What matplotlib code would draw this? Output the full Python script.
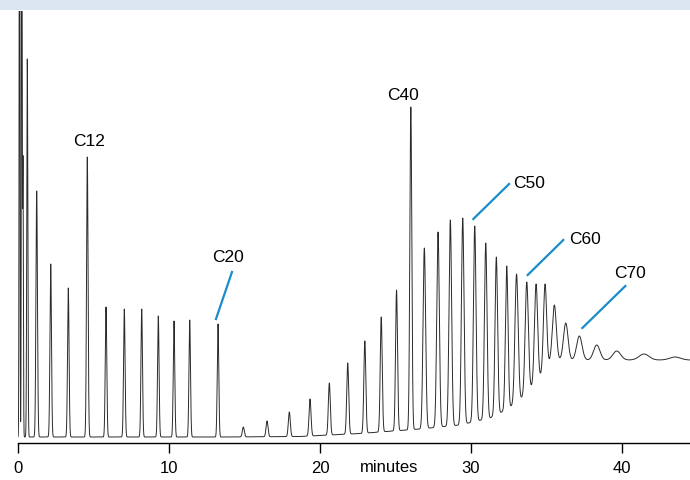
import numpy as np
import matplotlib
matplotlib.use("Agg")
import matplotlib.pyplot as plt
from matplotlib.patches import Rectangle
from matplotlib.transforms import blended_transform_factory

plt.rcParams['font.family'] = ['Liberation Sans', 'DejaVu Sans']

# peak table: retention time (min), apex level, width (sigma, min)
peak_times = [0.10, 0.25, 0.33, 0.616, 1.238, 2.166, 3.331, 4.589, 5.828, 7.040,
              8.192, 9.291, 10.331, 11.371, 13.245, 14.921, 16.490, 17.967, 19.338, 20.616,
              21.834, 22.967, 24.053, 25.066, 26.013, 26.907, 27.815, 28.629, 29.450, 30.245,
              30.974, 31.675, 32.364, 33.013, 33.689, 34.305, 34.901, 35.517, 36.272, 37.172,
              38.325, 39.649, 41.457, 43.510]
peak_levels = [700, 700, 277, 378, 246, 173, 149, 280, 130, 128,
               128, 121, 116, 117, 113, 10, 16, 25, 38, 54,
               74, 96, 120, 147, 330, 189, 205, 217, 219, 211,
               194, 180, 171, 163, 155, 153, 153, 132, 114, 101,
               92, 86, 83, 80]
peak_widths = [0.025, 0.025, 0.025, 0.035] + [0.05] * 11 + [0.065] * 10 + [0.085] * 8 + \
              [0.105] * 4 + [0.13, 0.15, 0.18, 0.21, 0.26, 0.33, 0.36]

# rising baseline (column bleed) read at the valleys
base_times = [0, 14.04, 18.68, 22.65, 26.62, 29.27, 31.26, 31.92, 32.52, 33.25,
              33.97, 34.57, 35.23, 35.89, 44.5]
base_levels = [0, 0, 0.5, 3.5, 8, 12, 19, 24, 29, 37, 49, 60, 75, 77, 77]

tick_values = [0, 10, 20, 30, 40]

t = np.linspace(0, 44.5, 40000)
baseline = np.interp(t, base_times, base_levels)
signal = baseline.copy()
for rt, lev, w in zip(peak_times, peak_levels, peak_widths):
    amp = lev - np.interp(rt, base_times, base_levels)
    signal += amp * np.exp(-0.5 * ((t - rt) / w) ** 2)

fig = plt.figure(figsize=(6.9, 4.8), dpi=100)
fig.patches.append(Rectangle((0, 1 - 10 / 480), 1, 10 / 480, transform=fig.transFigure,
                             facecolor='#dce6f2', edgecolor='none', zorder=0))
ax = fig.add_axes([18 / 690, 37 / 480, 672 / 690, 432 / 480])
ax.plot(t, signal, color='#2b2b2b', lw=0.7)
ax.set_xlim(0, 44.5)
ax.set_ylim(-6, 426)

for s in ['top', 'right', 'left']:
    ax.spines[s].set_visible(False)
ax.spines['bottom'].set_linewidth(1.0)
ax.set_yticks([])
ax.set_xticks(tick_values)
ax.set_xticklabels([str(v) for v in tick_values])
ax.tick_params(axis='x', direction='out', length=7, width=1.0, pad=6, labelsize=12)

trans = blended_transform_factory(ax.transData, ax.transAxes)
ax.text(24.6, -0.056, 'minutes', transform=trans, ha='center', va='center', fontsize=12)

blue = '#1a8ccc'
fs = 12.5
ax.text(4.70, 295, 'C12', ha='center', va='center', fontsize=fs)
ax.text(25.52, 341, 'C40', ha='center', va='center', fontsize=fs)

ax.text(13.89, 179, 'C20', ha='center', va='center', fontsize=fs)
ax.plot([14.17, 13.11], [165, 118], color=blue, lw=1.6)

ax.text(33.86, 253, 'C50', ha='center', va='center', fontsize=fs)
ax.plot([32.52, 30.15], [253, 218], color=blue, lw=1.6)

ax.text(37.55, 197, 'C60', ha='center', va='center', fontsize=fs)
ax.plot([36.11, 33.75], [197, 162], color=blue, lw=1.6)

ax.text(40.53, 163, 'C70', ha='center', va='center', fontsize=fs)
ax.plot([40.22, 37.37], [151, 109], color=blue, lw=1.6)

fig.savefig('out.png', dpi=100)
